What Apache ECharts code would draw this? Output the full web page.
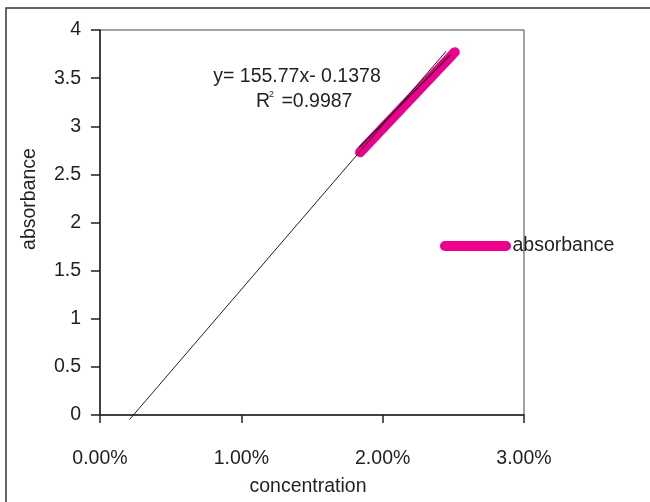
<!DOCTYPE html>
<html>
<head>
<meta charset="utf-8">
<script src="https://cdn.jsdelivr.net/npm/echarts@6/dist/echarts.min.js"></script>
<style>
html,body{margin:0;padding:0;background:#fff;}
#c{width:650px;height:502px;}
</style>
</head>
<body>
<div id="c"></div>
<script>
// data
const seriesName = 'absorbance';
const concentration = [0.0184, 0.0251];
const absorbanceValues = [2.73, 3.77];
const innerLineX = [0.01833, 0.02477];
const innerLineY = [2.78, 3.74];
const trendX = [0.00209, 0.02449];
const trendY = [-0.047, 3.78];
const xTicks = [0, 0.01, 0.02, 0.03];
const yTicks = [0, 0.5, 1, 1.5, 2, 2.5, 3, 3.5, 4];
const equationText = 'y= 155.77x- 0.1378';
const r2Text = ' =0.9987';

const pink = '#EC008C';
const ink = '#231f20';
const font = 'Liberation Sans, Arial, sans-serif';
const fs = 19.5;

const zip = (a, b) => a.map((v, i) => [v, b[i]]);

const chart = echarts.init(document.getElementById('c'), null, {renderer: 'canvas'});
chart.setOption({
  animation: false,
  backgroundColor: '#fff',
  textStyle: {fontFamily: font, color: ink},
  grid: {left: 100, top: 30, right: 126, bottom: 85, show: true, borderColor: '#444', borderWidth: 1},
  legend: {
    left: 440, top: 236, padding: 0,
    data: [{name: seriesName, icon: 'path://M5,0 H66 A5,5 0 0 1 66,10 H5 A5,5 0 0 1 5,0 Z'}],
    itemWidth: 72, itemHeight: 10, itemGap: 0,
    textStyle: {fontSize: fs, color: ink, fontFamily: font, padding: [0, 0, 0, -4]},
    itemStyle: {color: pink}
  },
  xAxis: {
    type: 'value', min: xTicks[0], max: xTicks[xTicks.length - 1], interval: 0.01,
    axisLine: {lineStyle: {color: ink, width: 1.5}},
    axisTick: {show: true, length: 8, lineStyle: {color: ink, width: 1.5}},
    axisLabel: {fontSize: fs, color: ink, margin: 34, fontFamily: font,
      formatter: v => (v * 100).toFixed(2) + '%'},
    splitLine: {show: false},
    name: 'concentration', nameLocation: 'middle', nameGap: 62,
    nameTextStyle: {fontSize: fs, color: ink, fontFamily: font, padding: [0, 8, 0, 0]}
  },
  yAxis: {
    type: 'value', min: yTicks[0], max: yTicks[yTicks.length - 1], interval: 0.5,
    axisLine: {show: true, lineStyle: {color: ink, width: 1.5}},
    axisTick: {show: true, length: 9, lineStyle: {color: ink, width: 1.5}},
    axisLabel: {fontSize: fs, color: ink, margin: 19, fontFamily: font},
    splitLine: {show: false}
  },
  graphic: [
    {type: 'rect', shape: {x: 6, y: 8, width: 700, height: 600}, style: {fill: 'none', stroke: '#333', lineWidth: 1.5}, z: -1},
    {type: 'text', x: 30, y: 199, rotation: Math.PI / 2,
      style: {text: 'absorbance', fontSize: fs, fill: ink, fontFamily: font, align: 'center', verticalAlign: 'middle'}},
    {type: 'text', x: 297, y: 77,
      style: {text: equationText, fontSize: fs, fill: ink, fontFamily: font, align: 'center', verticalAlign: 'middle'}},
    {type: 'text', x: 256, y: 102,
      style: {text: 'R', fontSize: fs, fill: ink, fontFamily: font, align: 'left', verticalAlign: 'middle'}},
    {type: 'text', x: 269, y: 95,
      style: {text: '2', fontSize: 9, fill: ink, fontFamily: font, align: 'left', verticalAlign: 'middle'}},
    {type: 'text', x: 276, y: 102,
      style: {text: r2Text, fontSize: fs, fill: ink, fontFamily: font, align: 'left', verticalAlign: 'middle'}}
  ],
  series: [
    {name: 'trend', type: 'line', data: zip(trendX, trendY), showSymbol: false, clip: false,
      lineStyle: {color: ink, width: 1}, silent: true, z: 3},
    {name: seriesName, type: 'line', data: zip(concentration, absorbanceValues), showSymbol: false,
      lineStyle: {color: pink, width: 10, cap: 'round'}, itemStyle: {color: pink}, z: 2},
    {name: 'inner', type: 'line', data: zip(innerLineX, innerLineY), showSymbol: false,
      lineStyle: {color: ink, width: 1.2}, silent: true, z: 4}
  ]
});
</script>
</body>
</html>
